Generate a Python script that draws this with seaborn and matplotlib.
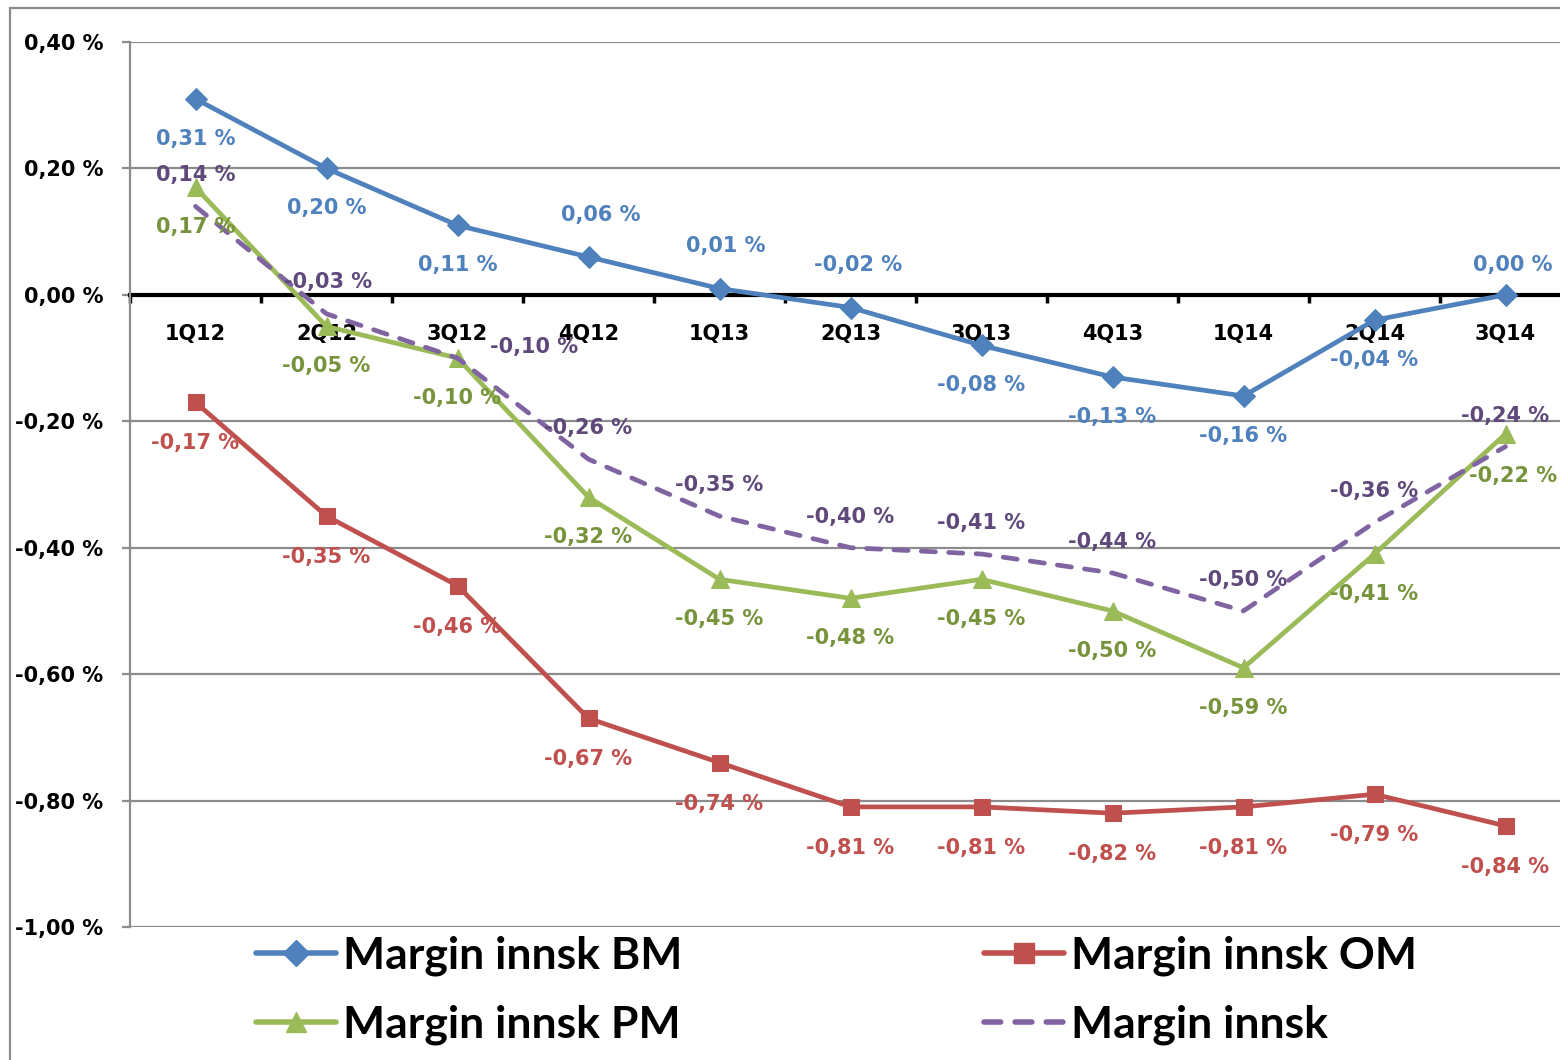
import numpy as np
import pandas as pd
import matplotlib
matplotlib.use("Agg")
import matplotlib.pyplot as plt
from matplotlib.ticker import FuncFormatter, FixedLocator
from matplotlib.lines import Line2D
import seaborn as sns

categories = ["1Q12", "2Q12", "3Q12", "4Q12", "1Q13", "2Q13", "3Q13", "4Q13", "1Q14", "2Q14", "3Q14"]
bm = [0.31, 0.20, 0.11, 0.06, 0.01, -0.02, -0.08, -0.13, -0.16, -0.04, 0.00]
om = [-0.17, -0.35, -0.46, -0.67, -0.74, -0.81, -0.81, -0.82, -0.81, -0.79, -0.84]
pm = [0.17, -0.05, -0.10, -0.32, -0.45, -0.48, -0.45, -0.50, -0.59, -0.41, -0.22]
tot = [0.14, -0.03, -0.10, -0.26, -0.35, -0.40, -0.41, -0.44, -0.50, -0.36, -0.24]
names = ["Margin innsk BM", "Margin innsk OM", "Margin innsk PM", "Margin innsk"]
yticks = [0.40, 0.20, 0.00, -0.20, -0.40, -0.60, -0.80, -1.00]

sns.set_theme(style="white")
plt.rcParams["font.family"] = ["DejaVu Sans"]

fig = plt.figure(figsize=(15.6, 10.6), dpi=100)
W, H = 1560, 1060
ax = fig.add_axes([130 / W, 133 / H, 1441 / W, 885 / H])

x = np.arange(len(categories))
series = [
    (bm, "#4F81BD", "#4F81BD", "D", 11, "-"),
    (om, "#C0504D", "#C0504D", "s", 12, "-"),
    (pm, "#9BBB59", "#77933C", "^", 13, "-"),
    (tot, "#8064A2", "#5F497A", None, 0, "--"),
]
LW = 3.4

handles = []
for (vals, col, lcol, mk, ms, ls), name in zip(series, names):
    df = pd.DataFrame({"x": x, "y": vals})
    kw = dict(marker=mk, markersize=ms, markeredgecolor=col, markerfacecolor=col) if mk else {}
    sns.lineplot(data=df, x="x", y="y", ax=ax, color=col, linewidth=LW,
                 linestyle=ls, zorder=3, legend=False, **kw)
    line = ax.lines[-1]
    if ls == "--":
        line.set_dashes((3.0, 2.8))
        line.set_dash_capstyle("round")
    h = Line2D([0], [0], color=col, lw=LW + 0.6, linestyle="-",
               marker=mk if mk else "", markersize=ms + 2,
               markerfacecolor=col, markeredgecolor=col, solid_capstyle="round")
    if ls == "--":
        h.set_dashes((3.0, 2.6))
        h.set_dash_capstyle("round")
    handles.append(h)

def fmt(v):
    v = round(v, 2) + 0.0
    return f"{v:.2f} %".replace(".", ",")

# label offsets in pixels (dx, dy), dy positive = up
default_off = {0: (0, -40), 1: (0, -41), 2: (0, -40), 3: (0, 31)}
special = {(0, 3): (12, 42), (0, 4): (6, 43), (0, 5): (8, 42), (0, 10): (7, 30),
           (3, 2): (77, 11), (2, 10): (8, -42), (3, 1): (2, 32)}
for si, (vals, col, lcol, mk, ms, ls) in enumerate(series):
    for i, v in enumerate(vals):
        dx, dy = special.get((si, i), default_off[si])
        ax.annotate(fmt(v), (x[i], v), xytext=(dx, dy), textcoords="offset pixels",
                    ha="center", va="center", fontsize=15, fontweight="bold",
                    color=lcol, zorder=6, annotation_clip=False)

ax.set_xlim(-0.5, len(categories) - 0.5)
ax.set_ylim(-1.0, 0.4)
ax.set_xlabel("")
ax.set_ylabel("")

ax.yaxis.set_major_locator(FixedLocator(yticks))
ax.yaxis.set_major_formatter(FuncFormatter(lambda v, _: fmt(v)))
ax.grid(axis="y", color="#8C8C8C", linewidth=1.6, zorder=0)
ax.grid(axis="x", visible=False)
ax.set_axisbelow(True)

ax.spines["top"].set_visible(False)
ax.spines["right"].set_visible(False)
ax.spines["left"].set_color("#8C8C8C")
ax.spines["left"].set_linewidth(1.6)
ax.spines["bottom"].set_position(("data", 0))
ax.spines["bottom"].set_color("black")
ax.spines["bottom"].set_linewidth(3)
ax.spines["bottom"].set_zorder(2)

ax.set_xticks(np.arange(len(categories) + 1) - 0.5)
ax.set_xticklabels([])
ax.set_xticks(x, minor=True)
ax.set_xticklabels(categories, minor=True)
ax.tick_params(axis="x", which="major", direction="out", length=6, width=2.5,
               color="black", bottom=True)
ax.tick_params(axis="x", which="minor", length=0, pad=21, labelsize=15,
               labelcolor="black")
for t in ax.get_xticklabels(minor=True):
    t.set_fontweight("bold")
ax.tick_params(axis="y", direction="out", length=6, width=1.6, color="#8C8C8C",
               left=True, pad=13, labelsize=15, labelcolor="black")
for t in ax.get_yticklabels():
    t.set_fontweight("bold")

# outer chart-area border
fig.add_artist(Line2D([10 / W, 10 / W], [0, 1 - 8 / H], color="#8C8C8C", lw=1.6,
                      transform=fig.transFigure))
fig.add_artist(Line2D([10 / W, 1], [1 - 8 / H, 1 - 8 / H], color="#8C8C8C", lw=1.6,
                      transform=fig.transFigure))

order = [0, 2, 1, 3]
leg = fig.legend([handles[i] for i in order], [names[i] for i in order],
                 ncol=2, loc="upper left", bbox_to_anchor=(216 / W, 1 - 896 / H),
                 frameon=False, handlelength=1.8, handletextpad=0.15,
                 columnspacing=6.8, labelspacing=0.62, labelcolor="black",
                 prop={"family": "Lato", "weight": "bold", "size": 32})

fig.savefig("out.png", dpi=100)
